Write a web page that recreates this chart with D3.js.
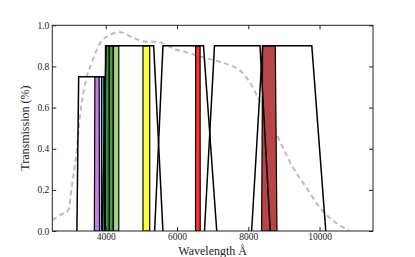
<!DOCTYPE html>
<html>
<head>
<meta charset="utf-8">
<script src="https://cdn.jsdelivr.net/npm/d3@7"></script>
<style>
  body { margin: 0; background: #fff; }
  text { font-family: "Liberation Serif", "DejaVu Serif", serif; fill: #222; }
</style>
</head>
<body>
<div id="chart"></div>
<script>
// Atmosphere-ish throughput curve (dashed grey)
const curveWave = [2500, 2810, 2950, 3045, 3165, 3275, 3445, 3600, 3835, 4115, 4395, 4765, 5140, 5420, 5605, 5885, 6350, 6820, 7190, 7560, 7750, 8030, 8310, 8680, 8960, 9240, 9615, 9990, 10360, 10830];
const curveTrans = [0.053, 0.086, 0.10, 0.215, 0.36, 0.556, 0.734, 0.815, 0.912, 0.953, 0.966, 0.94, 0.92, 0.92, 0.912, 0.888, 0.864, 0.84, 0.823, 0.80, 0.783, 0.726, 0.637, 0.507, 0.41, 0.313, 0.215, 0.118, 0.053, 0.005];

// Broad filters: [bottom-left, top-left, top-right, bottom-right] wavelength, peak
const broadNames = ["u", "g", "r", "i", "z"];
const broadEdges = [
  [3190, 3240, 3960, 3975],
  [3900, 4010, 5345, 5605],
  [5372, 5605, 6743, 7115],
  [6771, 7051, 8329, 8617],
  [8094, 8402, 9783, 10175]
];
const broadPeak = [0.75, 0.9, 0.9, 0.9, 0.9];

// Narrow filters (filled)
const narrowEdges = [
  [3680, 3695, 3815, 3825],
  [3876, 3880, 3955, 3960],
  [3988, 3990, 4100, 4100],
  [4100, 4100, 4206, 4206],
  [4217, 4217, 4365, 4365],
  [5045, 5045, 5233, 5233],
  [6519, 6522, 6648, 6651],
  [8374, 8402, 8758, 8805]
];
const narrowPeak = [0.75, 0.75, 0.9, 0.9, 0.9, 0.9, 0.9, 0.9];
const narrowColor = ["#c57fe6", "#1fb3c2", "#3b8d3b", "#4a9a45", "#a3d886", "#ffff3c", "#ff3030", "#b84646"];

const xTicks = [4000, 6000, 8000, 10000];
const yTicks = [0.0, 0.2, 0.4, 0.6, 0.8, 1.0];

const W = 415, H = 257;
const margin = { top: 25.3, right: 42, bottom: 26, left: 52.3 };
const width = W - margin.left - margin.right,
  height = H - margin.top - margin.bottom;

const svg = d3.select("#chart")
  .append("svg")
  .attr("width", W)
  .attr("height", H)
  .append("g")
  .attr("transform", "translate(" + margin.left + "," + margin.top + ")");

const x = d3.scaleLinear().domain([2500, 11500]).range([0, width]);
const y = d3.scaleLinear().domain([0, 1]).range([height, 0]);

svg.append("clipPath").attr("id", "clip")
  .append("rect").attr("width", width).attr("height", height);

const plot = svg.append("g").attr("clip-path", "url(#clip)");

// dashed curve
const line = d3.line()
  .x((d, i) => x(curveWave[i]))
  .y(d => y(d))
  .curve(d3.curveMonotoneX);

plot.append("path")
  .datum(curveTrans)
  .attr("d", line)
  .attr("fill", "none")
  .attr("stroke", "#bcbcbc")
  .attr("stroke-width", 2)
  .attr("stroke-dasharray", "5,3.5");

function trap(e, p) {
  return [[x(e[0]), y(0)], [x(e[1]), y(p)], [x(e[2]), y(p)], [x(e[3]), y(0)]];
}

// narrow filled filters
plot.selectAll(".narrow")
  .data(narrowEdges)
  .join("polygon")
  .attr("class", "narrow")
  .attr("points", (d, i) => trap(d, narrowPeak[i]).join(" "))
  .attr("fill", (d, i) => narrowColor[i])
  .attr("stroke", "#000")
  .attr("stroke-width", 1.2);

// broad filter outlines
plot.selectAll(".broad")
  .data(broadEdges)
  .join("polyline")
  .attr("class", "broad")
  .attr("points", (d, i) => trap(d, broadPeak[i]).join(" "))
  .attr("fill", "none")
  .attr("stroke", "#000")
  .attr("stroke-width", 1.5)
  .attr("stroke-linejoin", "miter");

// frame
svg.append("rect")
  .attr("width", width)
  .attr("height", height)
  .attr("fill", "none")
  .attr("stroke", "#222")
  .attr("stroke-width", 1);

// ticks (inward, all four sides)
const tl = 4;
svg.append("g")
  .attr("transform", "translate(0," + height + ")")
  .call(d3.axisBottom(x).tickValues(xTicks).tickSizeInner(-tl).tickSizeOuter(0).tickPadding(2).tickFormat(d3.format("d")))
  .call(g => g.select(".domain").remove())
  .call(g => g.selectAll("text").attr("font-size", "9.5px").style("fill", "#222"));

svg.append("g")
  .call(d3.axisTop(x).tickValues(xTicks).tickSizeInner(-tl).tickSizeOuter(0).tickFormat(""))
  .call(g => g.select(".domain").remove());

svg.append("g")
  .call(d3.axisLeft(y).tickValues(yTicks).tickSizeInner(-tl).tickSizeOuter(0).tickPadding(3).tickFormat(d3.format(".1f")))
  .call(g => g.select(".domain").remove())
  .call(g => g.selectAll("text").attr("font-size", "9.5px").style("fill", "#222"));

svg.append("g")
  .attr("transform", "translate(" + width + ",0)")
  .call(d3.axisRight(y).tickValues(yTicks).tickSizeInner(-tl).tickSizeOuter(0).tickFormat(""))
  .call(g => g.select(".domain").remove());

svg.selectAll(".tick line").attr("stroke", "#222");

// axis labels
svg.append("text")
  .attr("x", width / 2)
  .attr("y", height + 24.5)
  .attr("text-anchor", "middle")
  .attr("font-size", "12px")
  .text("Wavelength Å");

svg.append("text")
  .attr("transform", "translate(" + (-23) + "," + (height / 2) + ") rotate(-90)")
  .attr("text-anchor", "middle")
  .attr("font-size", "12px")
  .text("Transmission (%)");
</script>
</body>
</html>
